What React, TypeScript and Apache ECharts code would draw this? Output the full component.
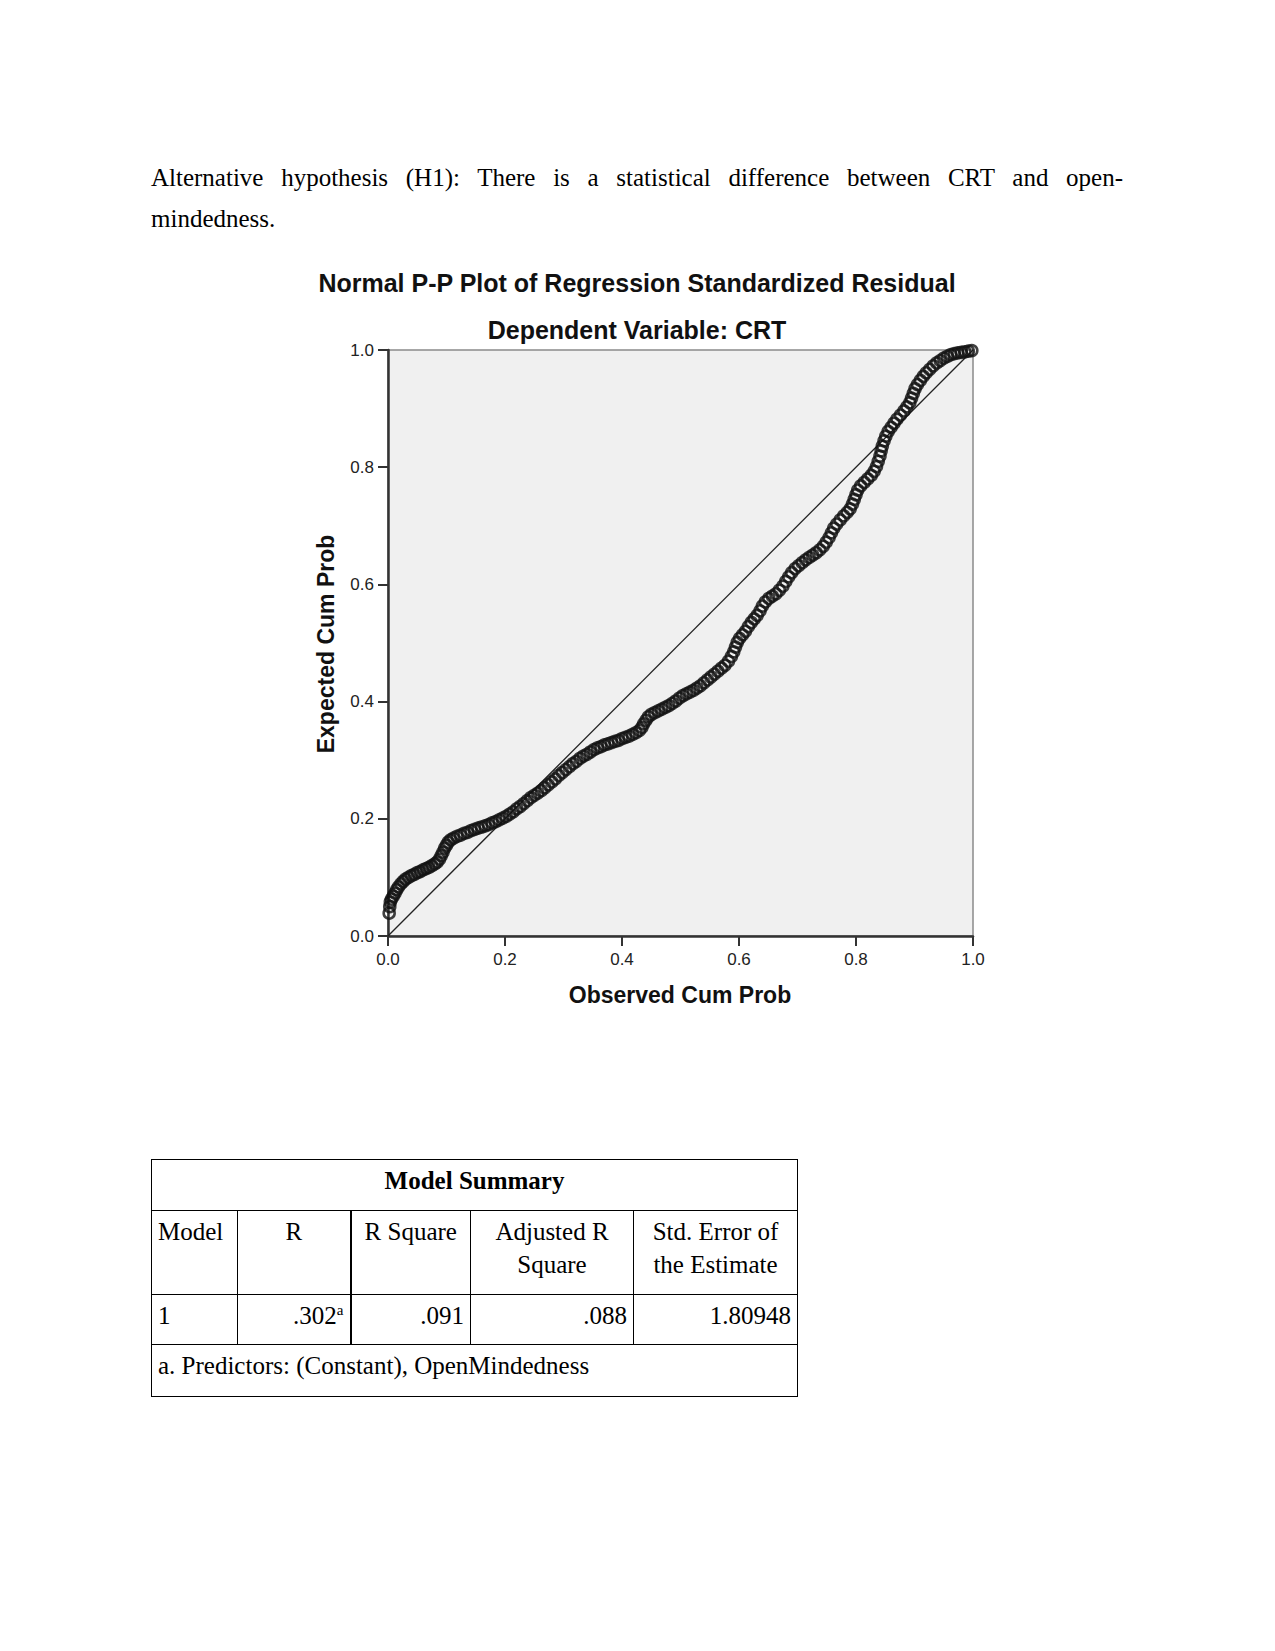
import React, { useEffect, useRef } from "react";
import * as echarts from "echarts";

// ---------- Data ----------
const chartTitle = "Normal P-P Plot of Regression Standardized Residual";
const chartSubtitle = "Dependent Variable: CRT";
const xAxisName = "Observed Cum Prob";
const yAxisName = "Expected Cum Prob";
const axisMin = 0;
const axisMax = 1;
const axisStep = 0.2;

// [observed cum prob, expected cum prob]
const ppPoints: [number, number][] = [
  [0.002, 0.039], [0.003, 0.050], [0.004, 0.058], [0.006, 0.063], [0.009, 0.068],
  [0.012, 0.073], [0.015, 0.079], [0.018, 0.084], [0.022, 0.089], [0.026, 0.093],
  [0.030, 0.097], [0.035, 0.100], [0.040, 0.103], [0.045, 0.105], [0.050, 0.108],
  [0.055, 0.110], [0.060, 0.113], [0.065, 0.115], [0.070, 0.117], [0.075, 0.120],
  [0.080, 0.123], [0.084, 0.126], [0.088, 0.131], [0.091, 0.137], [0.094, 0.143],
  [0.097, 0.150], [0.100, 0.155], [0.103, 0.160], [0.107, 0.164], [0.112, 0.167],
  [0.118, 0.170], [0.124, 0.172], [0.130, 0.175], [0.136, 0.177], [0.142, 0.180],
  [0.148, 0.182], [0.154, 0.184], [0.160, 0.186], [0.166, 0.188], [0.172, 0.190],
  [0.178, 0.193], [0.184, 0.195], [0.190, 0.198], [0.196, 0.201], [0.202, 0.204],
  [0.208, 0.208], [0.214, 0.212], [0.220, 0.217], [0.226, 0.221], [0.232, 0.226],
  [0.238, 0.231], [0.244, 0.236], [0.250, 0.240], [0.256, 0.244], [0.262, 0.248],
  [0.268, 0.253], [0.274, 0.258], [0.280, 0.263], [0.286, 0.268], [0.292, 0.274],
  [0.298, 0.279], [0.304, 0.284], [0.310, 0.289], [0.316, 0.294], [0.322, 0.298],
  [0.328, 0.303], [0.334, 0.307], [0.340, 0.310], [0.346, 0.314], [0.352, 0.318],
  [0.358, 0.321], [0.364, 0.323], [0.370, 0.326], [0.376, 0.328], [0.382, 0.330],
  [0.388, 0.332], [0.394, 0.334], [0.400, 0.337], [0.406, 0.339], [0.412, 0.341],
  [0.418, 0.344], [0.424, 0.347], [0.430, 0.351], [0.434, 0.356], [0.437, 0.362],
  [0.441, 0.368], [0.445, 0.374], [0.450, 0.378], [0.456, 0.381], [0.462, 0.384],
  [0.468, 0.387], [0.474, 0.390], [0.480, 0.393], [0.486, 0.397], [0.492, 0.401],
  [0.498, 0.406], [0.504, 0.410], [0.510, 0.413], [0.516, 0.416], [0.522, 0.419],
  [0.528, 0.423], [0.534, 0.427], [0.540, 0.432], [0.546, 0.437], [0.552, 0.442],
  [0.558, 0.447], [0.564, 0.452], [0.570, 0.457], [0.576, 0.462], [0.582, 0.469],
  [0.587, 0.477], [0.591, 0.485], [0.594, 0.493], [0.597, 0.501], [0.601, 0.508],
  [0.606, 0.514], [0.611, 0.520], [0.616, 0.528], [0.621, 0.535], [0.626, 0.541],
  [0.631, 0.547], [0.636, 0.555], [0.640, 0.563], [0.645, 0.570], [0.651, 0.576],
  [0.657, 0.580], [0.663, 0.584], [0.669, 0.590], [0.675, 0.597], [0.680, 0.605],
  [0.685, 0.613], [0.690, 0.620], [0.696, 0.627], [0.702, 0.632], [0.708, 0.637],
  [0.714, 0.642], [0.720, 0.646], [0.726, 0.650], [0.732, 0.654], [0.738, 0.659],
  [0.744, 0.665], [0.749, 0.672], [0.754, 0.680], [0.758, 0.688], [0.762, 0.696],
  [0.767, 0.703], [0.773, 0.710], [0.779, 0.717], [0.785, 0.723], [0.790, 0.729],
  [0.794, 0.737], [0.797, 0.745], [0.800, 0.753], [0.803, 0.761], [0.808, 0.768],
  [0.814, 0.774], [0.820, 0.780], [0.826, 0.786], [0.831, 0.793], [0.835, 0.801],
  [0.838, 0.810], [0.841, 0.819], [0.843, 0.828], [0.845, 0.836], [0.848, 0.845],
  [0.851, 0.853], [0.855, 0.861], [0.860, 0.868], [0.865, 0.875], [0.870, 0.882],
  [0.876, 0.889], [0.882, 0.896], [0.887, 0.903], [0.892, 0.910], [0.895, 0.918],
  [0.898, 0.926], [0.901, 0.934], [0.905, 0.941], [0.910, 0.948], [0.915, 0.955],
  [0.920, 0.961], [0.926, 0.967], [0.932, 0.973], [0.938, 0.978], [0.944, 0.982],
  [0.950, 0.986], [0.956, 0.989], [0.962, 0.992], [0.968, 0.994], [0.974, 0.995],
  [0.980, 0.996], [0.986, 0.997], [0.992, 0.998], [0.998, 0.999],
];

const referenceLine: [number, number][] = [
  [0, 0],
  [1, 1],
];

// Document text
const paragraphLine1 =
  "Alternative hypothesis (H1): There is a statistical difference between CRT and open-";
const paragraphLine2 = "mindedness.";

// Model summary table
const tableTitle = "Model Summary";
const tableHeaders = ["Model", "R", "R Square", "Adjusted R Square", "Std. Error of the Estimate"];
const modelIds = ["1"];
const rValues = [".302"];
const rSuperscript = "a";
const rSquareValues = [".091"];
const adjRSquareValues = [".088"];
const stdErrorValues = ["1.80948"];
const tableFootnote = "a. Predictors: (Constant), OpenMindedness";

// ---------- Chart ----------
const CHART_TOP = 240;

function PPChart() {
  const ref = useRef<HTMLDivElement>(null);
  useEffect(() => {
    if (!ref.current) return;
    const chart = echarts.init(ref.current, null, { renderer: "svg" });
    const sans = "'Liberation Sans', Arial, sans-serif";
    chart.setOption({
      animation: false,
      backgroundColor: "transparent",
      grid: {
        left: 388,
        top: 350 - CHART_TOP,
        width: 585,
        height: 586,
        show: true,
        backgroundColor: "#f0f0f0",
        borderColor: "#8a8a8a",
        borderWidth: 1.5,
      },
      xAxis: {
        type: "value",
        min: axisMin,
        max: axisMax,
        interval: axisStep,
        axisLine: { show: true, onZero: false, lineStyle: { color: "#333", width: 2.5 } },
        axisTick: { show: true, length: 10, lineStyle: { color: "#333", width: 2 } },
        axisLabel: {
          formatter: (v: number) => v.toFixed(1),
          fontSize: 17,
          color: "#222",
          fontFamily: sans,
          margin: 15,
          showMaxLabel: true,
          showMinLabel: true,
        },
        splitLine: { show: false },
      },
      yAxis: {
        type: "value",
        min: axisMin,
        max: axisMax,
        interval: axisStep,
        axisLine: { show: true, onZero: false, lineStyle: { color: "#333", width: 2.5 } },
        axisTick: { show: true, length: 10, lineStyle: { color: "#333", width: 2 } },
        axisLabel: {
          formatter: (v: number) => v.toFixed(1),
          fontSize: 17,
          color: "#222",
          fontFamily: sans,
          margin: 14,
          showMaxLabel: true,
          showMinLabel: true,
        },
        splitLine: { show: false },
      },
      graphic: [
        {
          type: "text",
          x: 637,
          y: 283 - CHART_TOP,
          style: {
            text: chartTitle,
            font: `bold 25px ${sans}`,
            fill: "#111",
            align: "center",
            verticalAlign: "middle",
          },
        },
        {
          type: "text",
          x: 637,
          y: 330 - CHART_TOP,
          style: {
            text: chartSubtitle,
            font: `bold 25px ${sans}`,
            fill: "#111",
            align: "center",
            verticalAlign: "middle",
          },
        },
        {
          type: "text",
          x: 680,
          y: 995 - CHART_TOP,
          style: {
            text: xAxisName,
            font: `bold 23px ${sans}`,
            fill: "#111",
            align: "center",
            verticalAlign: "middle",
          },
        },
        {
          type: "text",
          x: 326,
          y: 644 - CHART_TOP,
          rotation: Math.PI / 2,
          style: {
            text: yAxisName,
            font: `bold 23px ${sans}`,
            fill: "#111",
            align: "center",
            verticalAlign: "middle",
          },
        },
      ],
      series: [
        {
          type: "line",
          data: referenceLine,
          symbol: "none",
          lineStyle: { color: "#222", width: 1.3 },
          z: 2,
          silent: true,
        },
        {
          type: "scatter",
          data: ppPoints,
          symbol: "circle",
          symbolSize: 11,
          itemStyle: {
            color: "rgba(0,0,0,0)",
            borderColor: "#111",
            borderWidth: 2.6,
          },
          z: 3,
        },
      ],
    });
    return () => chart.dispose();
  }, []);
  return (
    <div
      ref={ref}
      style={{ position: "absolute", left: 0, top: CHART_TOP, width: 1275, height: 800 }}
    />
  );
}

const serif = "'Liberation Serif', 'Times New Roman', serif";

function ModelTable() {
  const cell: React.CSSProperties = {
    border: "1px solid #000",
    padding: "4px 6px 0 6px",
    verticalAlign: "top",
    lineHeight: "33px",
  };
  const colWidths = [86, 113, 120, 163, 164];
  return (
    <table
      style={{
        position: "absolute",
        left: 151,
        top: 1159,
        width: 646,
        borderCollapse: "collapse",
        tableLayout: "fixed",
        fontFamily: serif,
        fontSize: 25,
        color: "#000",
      }}
    >
      <colgroup>
        {colWidths.map((w, i) => (
          <col key={i} style={{ width: w }} />
        ))}
      </colgroup>
      <tbody>
        <tr style={{ height: 51 }}>
          <td colSpan={5} style={{ ...cell, textAlign: "center", fontWeight: "bold" }}>
            {tableTitle}
          </td>
        </tr>
        <tr style={{ height: 84 }}>
          <td style={{ ...cell, textAlign: "left" }}>{tableHeaders[0]}</td>
          <td style={{ ...cell, textAlign: "center", borderRight: "2px solid #000" }}>{tableHeaders[1]}</td>
          <td style={{ ...cell, textAlign: "center" }}>{tableHeaders[2]}</td>
          <td style={{ ...cell, textAlign: "center" }}>
            Adjusted R
            <br />
            Square
          </td>
          <td style={{ ...cell, textAlign: "center" }}>
            Std. Error of
            <br />
            the Estimate
          </td>
        </tr>
        {modelIds.map((id, i) => (
          <tr key={id} style={{ height: 50 }}>
            <td style={{ ...cell, textAlign: "left" }}>{id}</td>
            <td style={{ ...cell, textAlign: "right", borderRight: "2px solid #000" }}>
              {rValues[i]}
              <sup style={{ fontSize: 15, lineHeight: 0, verticalAlign: "9px" }}>{rSuperscript}</sup>
            </td>
            <td style={{ ...cell, textAlign: "right" }}>{rSquareValues[i]}</td>
            <td style={{ ...cell, textAlign: "right" }}>{adjRSquareValues[i]}</td>
            <td style={{ ...cell, textAlign: "right" }}>{stdErrorValues[i]}</td>
          </tr>
        ))}
        <tr style={{ height: 52 }}>
          <td colSpan={5} style={{ ...cell, textAlign: "left" }}>
            {tableFootnote}
          </td>
        </tr>
      </tbody>
    </table>
  );
}

export default function App() {
  return (
    <div
      style={{
        position: "absolute",
        left: 0,
        top: 0,
        width: 1275,
        height: 1651,
        background: "#fff",
        overflow: "hidden",
      }}
    >
      <PPChart />
      <div
        style={{
          position: "absolute",
          left: 151,
          top: 163,
          width: 972,
          fontFamily: serif,
          fontSize: 25,
          lineHeight: "30px",
          textAlign: "justify",
          textAlignLast: "justify",
          color: "#000",
          whiteSpace: "normal",
        }}
      >
        {paragraphLine1}
      </div>
      <div
        style={{
          position: "absolute",
          left: 151,
          top: 204,
          fontFamily: serif,
          fontSize: 25,
          lineHeight: "30px",
          color: "#000",
        }}
      >
        {paragraphLine2}
      </div>
      <ModelTable />
    </div>
  );
}
